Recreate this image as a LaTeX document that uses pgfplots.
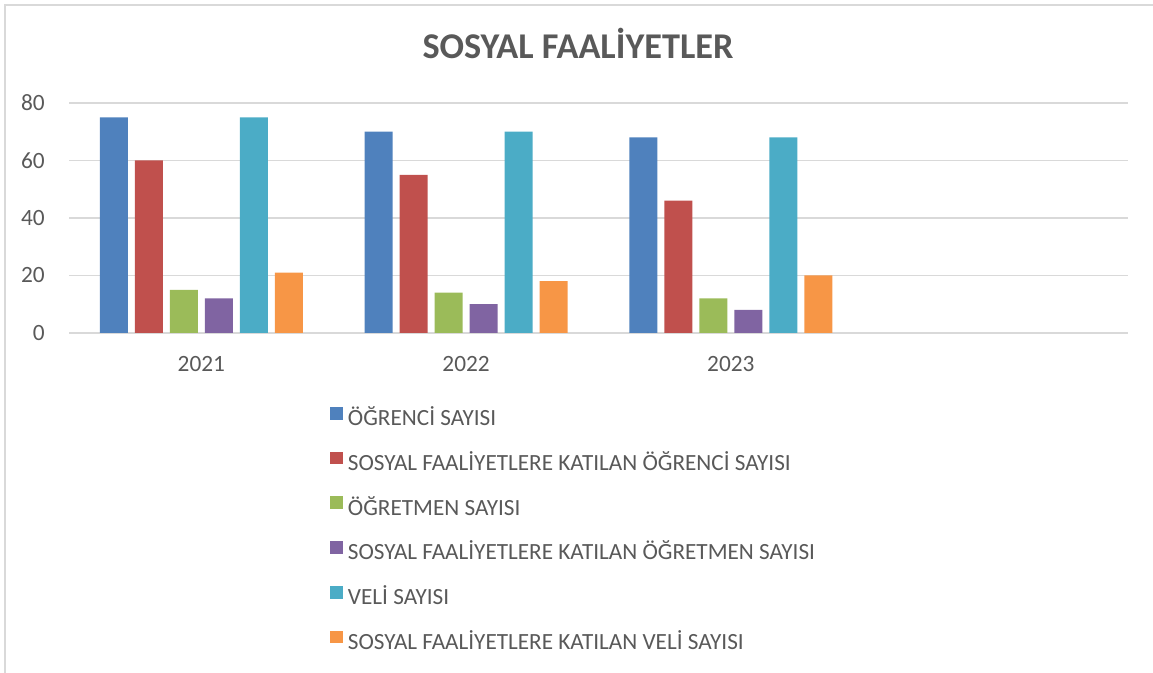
\documentclass[border=0pt]{standalone}
\usepackage{pgfplots}
\pgfplotsset{compat=1.18}
\usepackage{fontspec}
\setmainfont{Carlito}
\definecolor{cBlue}{HTML}{4F81BD}
\definecolor{cRed}{HTML}{C0504D}
\definecolor{cGreen}{HTML}{9BBB59}
\definecolor{cPurple}{HTML}{8064A2}
\definecolor{cTeal}{HTML}{4BACC6}
\definecolor{cOrange}{HTML}{F79646}
\definecolor{txtgray}{HTML}{595959}
\definecolor{gridgray}{HTML}{D9D9D9}
\pgfplotstableread{
x a b c d e f
1 75 60 15 12 75 21
2 70 55 14 10 70 18
3 68 46 12 8 68 20
}\datatable
\begin{document}
\begin{tikzpicture}
\useasboundingbox (-51.75pt,-255pt) rectangle (813pt,249.75pt);
\draw[gridgray, line width=1.5pt] (-48pt,-255pt) -- (-48pt,246pt) -- (813pt,246pt);
\begin{axis}[
  at={(0pt,0pt)}, anchor=south west,
  scale only axis, width=794.25pt, height=172.5pt,
  xmin=0.5, xmax=4.5, ymin=0, ymax=80,
  ybar=5.25pt, bar width=21pt,
  xtick={1,2,3}, xticklabels={2021,2022,2023},
  ytick={0,20,40,60,80},
  major tick length=0pt,
  axis line style={draw=none},
  ymajorgrids, grid style={draw=gridgray, line width=1.2pt},
  tick label style={font=\fontsize{17.5}{20}\selectfont, text=txtgray},
  /pgf/number format/assume math mode=true,
  xticklabel style={anchor=north, inner sep=0pt, yshift=-17.5pt},
  yticklabel style={anchor=east, inner sep=0pt, xshift=-18pt},
  title={\fontsize{27.2}{31}\selectfont\bfseries SOSYAL FAALİYETLER},
  title style={at={(axis description cs:0.4806,1.158)}, anchor=base, inner sep=0pt, text=txtgray},
  legend style={at={(axis description cs:0.2465,-0.3203)}, anchor=north west,
    draw=none, inner sep=0pt, row sep=15.55pt, column sep=3.5pt,
    font=\fontsize{17.4}{20}\selectfont, text=txtgray,
    nodes={inner sep=0pt, text height=12pt, text depth=4pt}},
  legend cell align=left,
  legend image code/.code={\fill[#1, draw=none] (0pt,0.5pt) rectangle (9.75pt,10pt);},
  clip=false,
]
\addplot[fill=cBlue, draw=none] table[x=x,y=a]{\datatable};
\addplot[fill=cRed, draw=none] table[x=x,y=b]{\datatable};
\addplot[fill=cGreen, draw=none] table[x=x,y=c]{\datatable};
\addplot[fill=cPurple, draw=none] table[x=x,y=d]{\datatable};
\addplot[fill=cTeal, draw=none] table[x=x,y=e]{\datatable};
\addplot[fill=cOrange, draw=none] table[x=x,y=f]{\datatable};
\legend{ÖĞRENCİ SAYISI, SOSYAL FAALİYETLERE KATILAN ÖĞRENCİ SAYISI, ÖĞRETMEN SAYISI, SOSYAL FAALİYETLERE KATILAN ÖĞRETMEN SAYISI, VELİ SAYISI, SOSYAL FAALİYETLERE KATILAN VELİ SAYISI}
\end{axis}
\end{tikzpicture}
\end{document}
